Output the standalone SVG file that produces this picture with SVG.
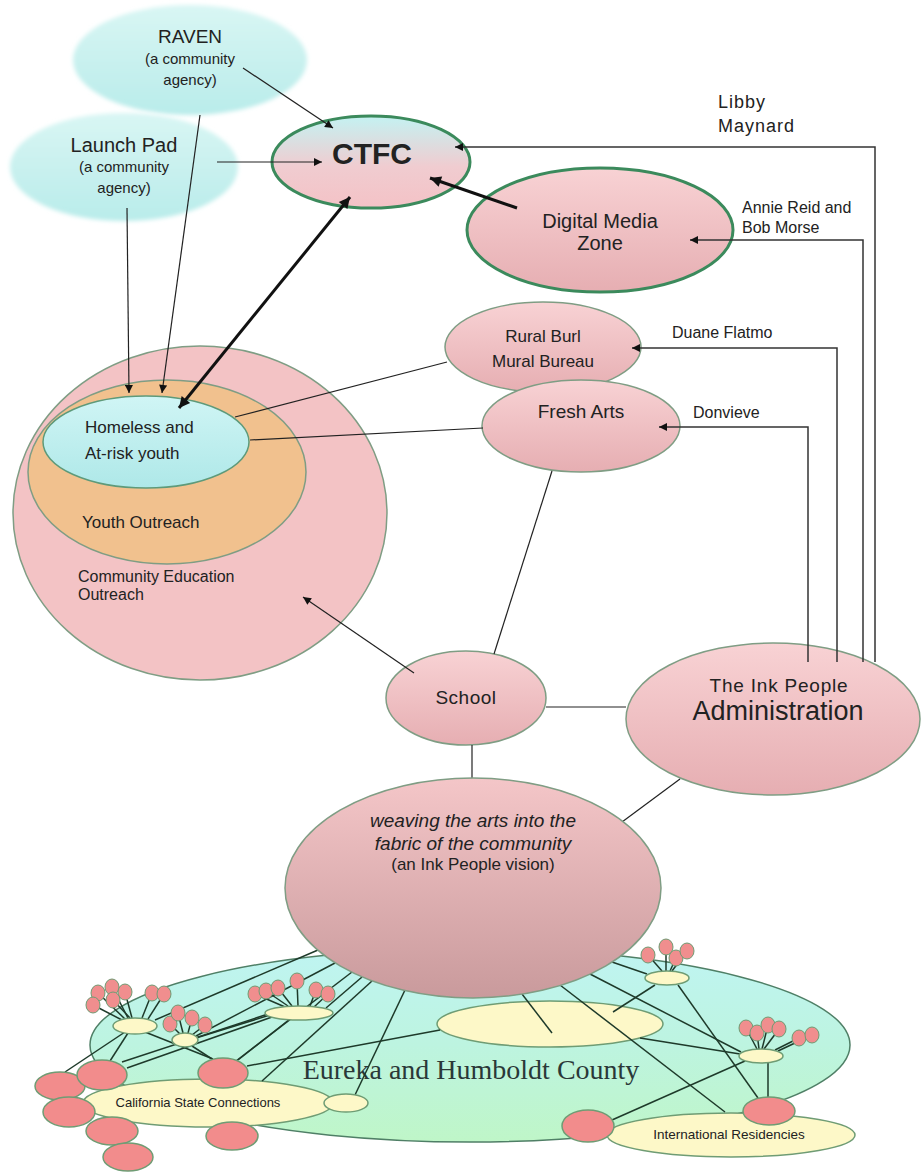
<svg xmlns="http://www.w3.org/2000/svg" width="922" height="1172" viewBox="0 0 922 1172">
<defs>
<style>
text{font-family:"Liberation Sans",Arial,sans-serif;fill:#222}
.c{text-anchor:middle}
.node{stroke:#7f9d84;stroke-width:1.5}
.green{stroke:#3b8a5c;stroke-width:3}
.ln{stroke:#222;stroke-width:1.2;fill:none}
.gl{stroke:#333;stroke-width:1.5;fill:none}
.bl{stroke:#1e3a2a;stroke-width:1.5;fill:none}
.thick{stroke:#111;stroke-width:3;fill:none}
.hub{fill:#fdf8c8;stroke:#6f9c74;stroke-width:1.5}
.red{fill:#f28c8c;stroke:#6f9c74;stroke-width:1.5}
.bal{fill:#f08e8e;stroke:#6f9c74;stroke-width:1}
</style>
<linearGradient id="gCyan" x1="0" y1="0" x2="0" y2="1"><stop offset="0" stop-color="#d9f6f4"/><stop offset="1" stop-color="#b9ecea"/></linearGradient>
<linearGradient id="gCtfc" x1="0" y1="0" x2="0" y2="1"><stop offset="0" stop-color="#c4f2f2"/><stop offset="0.55" stop-color="#f0ccd0"/><stop offset="1" stop-color="#f4c2c6"/></linearGradient>
<linearGradient id="gPink" x1="0" y1="0" x2="0" y2="1"><stop offset="0" stop-color="#f8d2d4"/><stop offset="1" stop-color="#e6aeb2"/></linearGradient>
<linearGradient id="gVision" x1="0" y1="0" x2="0" y2="1"><stop offset="0" stop-color="#f4c6c8"/><stop offset="1" stop-color="#c99a9c"/></linearGradient>
<linearGradient id="gHome" x1="0" y1="0" x2="0" y2="1"><stop offset="0" stop-color="#d0f5f5"/><stop offset="1" stop-color="#aee8e8"/></linearGradient>
<linearGradient id="gEureka" x1="0" y1="0" x2="0" y2="1"><stop offset="0" stop-color="#bff4f2"/><stop offset="0.5" stop-color="#bdf4e0"/><stop offset="1" stop-color="#bff6c8"/></linearGradient>
<filter id="soft" x="-10%" y="-10%" width="120%" height="120%"><feGaussianBlur stdDeviation="2"/></filter>
<marker id="a" viewBox="0 0 10 10" refX="10" refY="5" markerUnits="userSpaceOnUse" markerWidth="10" markerHeight="8" orient="auto-start-reverse"><path d="M0,0 L10,5 L0,10 z" fill="#111"/></marker>
<marker id="ab" viewBox="0 0 10 10" refX="10" refY="5" markerUnits="userSpaceOnUse" markerWidth="13" markerHeight="11" orient="auto-start-reverse"><path d="M0,0 L10,5 L0,10 z" fill="#111"/></marker>
</defs>
<rect width="922" height="1172" fill="#ffffff"/>

<g id="raven">
<ellipse cx="190" cy="60" rx="117" ry="55" fill="url(#gCyan)" filter="url(#soft)"/>
<text class="c" x="190" y="43" font-size="19">RAVEN</text>
<text class="c" x="190" y="64" font-size="15">(a community</text>
<text class="c" x="190" y="85" font-size="15">agency)</text>
</g>
<g id="launchpad">
<ellipse cx="124" cy="167" rx="114" ry="54" fill="url(#gCyan)" filter="url(#soft)"/>
<text class="c" x="124" y="152" font-size="20">Launch Pad</text>
<text class="c" x="124" y="172" font-size="15">(a community</text>
<text class="c" x="124" y="193" font-size="15">agency)</text>
</g>
<g id="ctfc">
<ellipse cx="371" cy="162" rx="99" ry="46" fill="url(#gCtfc)" class="green"/>
<text class="c" x="372" y="164" font-size="30" font-weight="bold">CTFC</text>
</g>
<g id="dmz">
<ellipse cx="600" cy="230" rx="133" ry="62" fill="url(#gPink)" class="green"/>
<text class="c" x="600" y="228" font-size="20">Digital Media</text>
<text class="c" x="600" y="250" font-size="20">Zone</text>
</g>
<g id="community-ed">
<ellipse cx="200" cy="513" rx="187" ry="167" fill="#f3c3c5" class="node"/>
<text x="78" y="582" font-size="16">Community Education</text>
<text x="78" y="600" font-size="16">Outreach</text>
</g>
<g id="youth-outreach">
<ellipse cx="167" cy="472" rx="139" ry="92" fill="#f1c18e" class="node"/>
<text x="82" y="528" font-size="17">Youth Outreach</text>
</g>
<g id="homeless">
<ellipse cx="146" cy="442" rx="103" ry="46" fill="url(#gHome)" stroke="#5e9a7a" stroke-width="1.5"/>
<text x="85" y="433" font-size="17">Homeless and</text>
<text x="85" y="459" font-size="17">At-risk youth</text>
</g>
<g id="rural-burl">
<ellipse cx="543" cy="347" rx="98" ry="45" fill="url(#gPink)" class="node"/>
<text class="c" x="543" y="342" font-size="17">Rural Burl</text>
<text class="c" x="543" y="367" font-size="17">Mural Bureau</text>
</g>
<g id="fresh-arts">
<ellipse cx="581" cy="426" rx="99" ry="46" fill="url(#gPink)" class="node"/>
<text class="c" x="581" y="418" font-size="19">Fresh Arts</text>
</g>
<g id="school">
<ellipse cx="466" cy="698" rx="80" ry="47" fill="url(#gPink)" class="node"/>
<text class="c" x="466" y="704" font-size="19" letter-spacing="0.5">School</text>
</g>
<g id="admin">
<ellipse cx="773" cy="719" rx="147" ry="76" fill="url(#gPink)" class="node"/>
<text class="c" x="779" y="692" font-size="19" letter-spacing="0.8">The Ink People</text>
<text class="c" x="778" y="720" font-size="27">Administration</text>
</g>
<g id="labels">
<text x="718" y="108" font-size="18" letter-spacing="1">Libby</text>
<text x="718" y="132" font-size="18" letter-spacing="1">Maynard</text>
<text x="742" y="213" font-size="16">Annie Reid and</text>
<text x="742" y="233" font-size="16">Bob Morse</text>
<text x="672" y="338" font-size="16">Duane Flatmo</text>
<text x="693" y="418" font-size="16">Donvieve</text>
</g>

<g id="eureka">
<ellipse cx="470" cy="1045" rx="380" ry="97" fill="url(#gEureka)" stroke="#4f7f66" stroke-width="1.5"/>
</g>
<g id="cal-state">
<ellipse cx="208" cy="1103" rx="125" ry="24" class="hub"/>
</g>
<g id="intl">
<ellipse cx="731" cy="1135" rx="124" ry="22" class="hub"/>
</g>
<g id="big-hub">
<ellipse cx="550" cy="1024" rx="113" ry="23" class="hub"/>
</g>
<g id="eureka-label">
<text class="c" x="471" y="1079" font-size="28" style="font-family:'Liberation Serif','Times New Roman',serif;fill:#2a3838">Eureka and Humboldt County</text>
</g>

<g id="connectors">
<line class="ln" x1="243" y1="68" x2="333" y2="128" marker-end="url(#a)"/>
<line class="ln" x1="217" y1="162" x2="322" y2="162" marker-end="url(#a)"/>
<line class="ln" x1="127" y1="208" x2="129" y2="393" marker-end="url(#a)"/>
<line class="ln" x1="200" y1="115" x2="162" y2="393" marker-end="url(#a)"/>
<line class="thick" x1="179" y1="408" x2="350" y2="197" marker-start="url(#ab)" marker-end="url(#ab)"/>
<line class="thick" x1="517" y1="208" x2="430" y2="178" marker-end="url(#ab)"/>
<line class="ln" x1="447" y1="362" x2="235" y2="417"/>
<line class="ln" x1="483" y1="428" x2="250" y2="440"/>
<polyline class="gl" points="875,662 875,147 455,147" marker-end="url(#a)"/>
<polyline class="gl" points="863,662 863,240 690,240" marker-end="url(#a)"/>
<polyline class="gl" points="837,662 837,348 632,348" marker-end="url(#a)"/>
<polyline class="gl" points="808,662 808,427 659,427" marker-end="url(#a)"/>
<line class="ln" x1="552" y1="471" x2="494" y2="654"/>
<line class="ln" x1="414" y1="673" x2="303" y2="597" marker-end="url(#a)"/>
<line class="ln" x1="546" y1="707" x2="626" y2="707" stroke-width="1.5"/>
<line class="ln" x1="472" y1="745" x2="472" y2="778" stroke-width="1.5"/>
<line class="ln" x1="622" y1="822" x2="680" y2="779"/>
<line class="bl" x1="318" y1="950" x2="155" y2="1020"/>
<line class="bl" x1="335" y1="963" x2="196" y2="1036"/>
<line class="bl" x1="352" y1="972" x2="236" y2="1061"/>
<line class="bl" x1="362" y1="977" x2="326" y2="1008"/>
<line class="bl" x1="372" y1="981" x2="262" y2="1081"/>
<line class="bl" x1="405" y1="990" x2="355" y2="1095"/>
<line class="bl" x1="522" y1="994" x2="552" y2="1033"/>
<line class="bl" x1="560" y1="985" x2="725" y2="1112"/>
<line class="bl" x1="590" y1="974" x2="741" y2="1052"/>
<line class="bl" x1="612" y1="962" x2="647" y2="974"/>
<line class="bl" x1="655" y1="985" x2="613" y2="1012"/>
<line class="bl" x1="678" y1="985" x2="758" y2="1098"/>
<line class="bl" x1="640" y1="1038" x2="740" y2="1054"/>
<line class="bl" x1="745" y1="1061" x2="612" y2="1120"/>
<line class="bl" x1="768" y1="1063" x2="768" y2="1097"/>
<line class="bl" x1="440" y1="1030" x2="247" y2="1066"/>
<line class="bl" x1="268" y1="1014" x2="122" y2="1062"/>
<line class="bl" x1="272" y1="1017" x2="127" y2="1068"/>
<line class="bl" x1="270" y1="1015" x2="196" y2="1038"/>
<line class="bl" x1="125" y1="1032" x2="65" y2="1072"/>
<line class="bl" x1="128" y1="1033" x2="110" y2="1061"/>
<line class="bl" x1="145" y1="1032" x2="213" y2="1059"/>
<line class="bl" x1="192" y1="1046" x2="212" y2="1059"/>
<line class="bl" x1="290" y1="1019" x2="238" y2="1060"/>
<g id="stems" class="bl" stroke-width="1.2">
<line x1="98" y1="993" x2="125" y2="1019"/><line x1="112" y1="987" x2="128" y2="1018"/><line x1="125" y1="992" x2="132" y2="1018"/><line x1="93" y1="1005" x2="122" y2="1020"/><line x1="113" y1="1000" x2="130" y2="1018"/><line x1="152" y1="993" x2="142" y2="1018"/><line x1="164" y1="994" x2="148" y2="1019"/>
<line x1="170" y1="1024" x2="180" y2="1034"/><line x1="178" y1="1013" x2="183" y2="1033"/><line x1="192" y1="1018" x2="188" y2="1033"/><line x1="205" y1="1025" x2="192" y2="1035"/>
<line x1="255" y1="994" x2="285" y2="1007"/><line x1="266" y1="991" x2="288" y2="1006"/><line x1="278" y1="988" x2="292" y2="1006"/><line x1="297" y1="981" x2="298" y2="1006"/><line x1="316" y1="990" x2="310" y2="1006"/><line x1="328" y1="994" x2="314" y2="1007"/>
<line x1="648" y1="955" x2="662" y2="971"/><line x1="666" y1="947" x2="666" y2="971"/><line x1="676" y1="958" x2="670" y2="971"/><line x1="687" y1="951" x2="672" y2="971"/>
<line x1="746" y1="1028" x2="757" y2="1049"/><line x1="757" y1="1033" x2="759" y2="1049"/><line x1="768" y1="1025" x2="762" y2="1049"/><line x1="779" y1="1029" x2="764" y2="1049"/><line x1="799" y1="1038" x2="775" y2="1050"/><line x1="812" y1="1035" x2="778" y2="1051"/>
</g>
</g>

<g id="vision">
<ellipse cx="473" cy="888" rx="188" ry="110" fill="url(#gVision)" class="node"/>
<text class="c" x="473" y="827" font-size="19" font-style="italic">weaving the arts into the</text>
<text class="c" x="473" y="850" font-size="19" font-style="italic">fabric of the community</text>
<text class="c" x="473" y="870" font-size="17">(an Ink People vision)</text>
</g>
<g id="hubs">
<ellipse cx="135" cy="1026" rx="22" ry="8" class="hub"/>
<ellipse cx="185" cy="1040" rx="13" ry="7" class="hub"/>
<ellipse cx="299" cy="1013" rx="34" ry="7" class="hub"/>
<ellipse cx="667" cy="978" rx="22" ry="7" class="hub"/>
<ellipse cx="761" cy="1056" rx="22" ry="7" class="hub"/>
<ellipse cx="346" cy="1103" rx="22" ry="9" class="hub"/>
</g>
<g id="balloons">
<ellipse cx="98" cy="993" rx="7" ry="8" class="bal"/><ellipse cx="112" cy="987" rx="7" ry="8" class="bal"/><ellipse cx="125" cy="992" rx="7" ry="8" class="bal"/><ellipse cx="93" cy="1005" rx="7" ry="8" class="bal"/><ellipse cx="113" cy="1000" rx="7" ry="8" class="bal"/><ellipse cx="152" cy="993" rx="7" ry="8" class="bal"/><ellipse cx="164" cy="994" rx="7" ry="8" class="bal"/>
<ellipse cx="170" cy="1024" rx="7" ry="8" class="bal"/><ellipse cx="178" cy="1013" rx="7" ry="8" class="bal"/><ellipse cx="192" cy="1018" rx="7" ry="8" class="bal"/><ellipse cx="205" cy="1025" rx="7" ry="8" class="bal"/>
<ellipse cx="255" cy="994" rx="7" ry="8" class="bal"/><ellipse cx="266" cy="991" rx="7" ry="8" class="bal"/><ellipse cx="278" cy="988" rx="7" ry="8" class="bal"/><ellipse cx="297" cy="981" rx="7" ry="8" class="bal"/><ellipse cx="316" cy="990" rx="7" ry="8" class="bal"/><ellipse cx="328" cy="994" rx="7" ry="8" class="bal"/>
<ellipse cx="648" cy="955" rx="7" ry="8" class="bal"/><ellipse cx="666" cy="947" rx="7" ry="8" class="bal"/><ellipse cx="676" cy="958" rx="7" ry="8" class="bal"/><ellipse cx="687" cy="951" rx="7" ry="8" class="bal"/>
<ellipse cx="746" cy="1028" rx="7" ry="8" class="bal"/><ellipse cx="757" cy="1033" rx="7" ry="8" class="bal"/><ellipse cx="768" cy="1025" rx="7" ry="8" class="bal"/><ellipse cx="779" cy="1029" rx="7" ry="8" class="bal"/><ellipse cx="799" cy="1038" rx="7" ry="8" class="bal"/><ellipse cx="812" cy="1035" rx="7" ry="8" class="bal"/>
</g>
<g id="red-nodes">
<ellipse cx="60" cy="1086" rx="25" ry="14" class="red"/>
<ellipse cx="102" cy="1075" rx="25" ry="15" class="red"/>
<ellipse cx="69" cy="1112" rx="26" ry="15" class="red"/>
<ellipse cx="112" cy="1131" rx="26" ry="14" class="red"/>
<ellipse cx="128" cy="1157" rx="25" ry="14" class="red"/>
<ellipse cx="223" cy="1073" rx="25" ry="15" class="red"/>
<ellipse cx="232" cy="1136" rx="26" ry="14" class="red"/>
<ellipse cx="588" cy="1126" rx="26" ry="16" class="red"/>
<ellipse cx="769" cy="1111" rx="26" ry="14" class="red"/>
</g>
<g id="bottom-labels">
<text class="c" x="198" y="1107" font-size="13">California State Connections</text>
<text class="c" x="729" y="1139" font-size="13.5">International Residencies</text>
</g>
</svg>
